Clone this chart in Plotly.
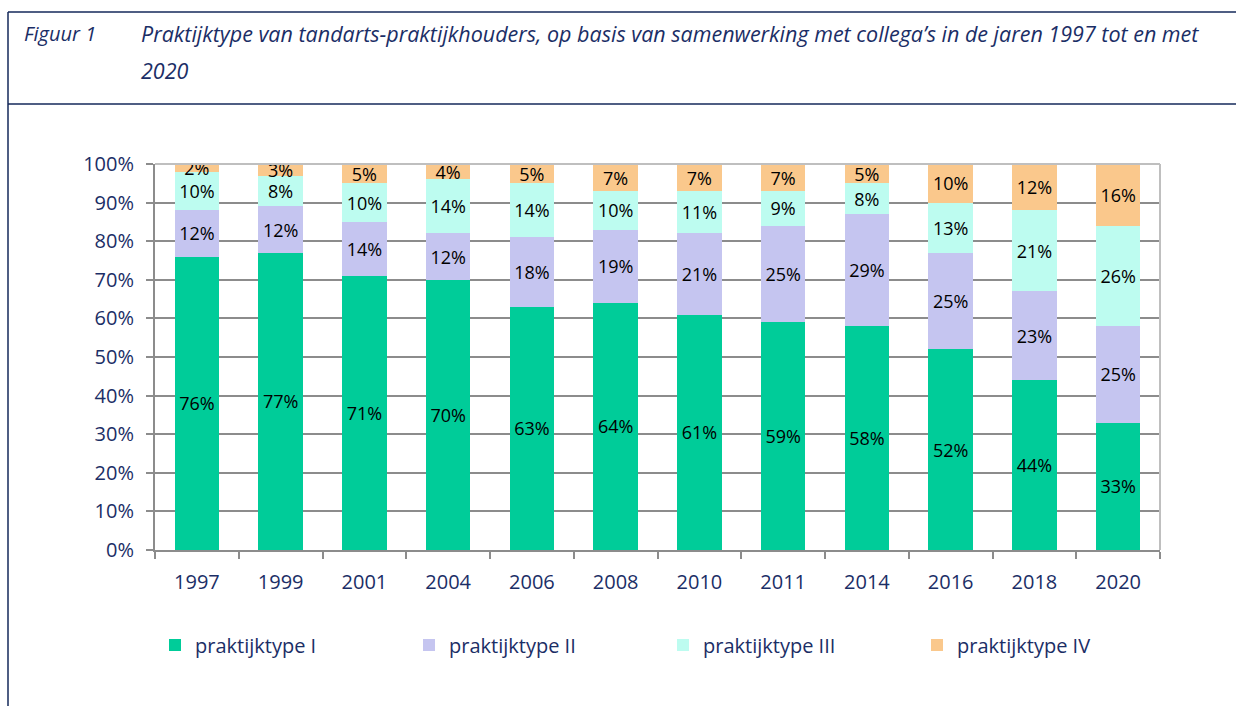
import plotly.graph_objects as go

years = ["1997", "1999", "2001", "2004", "2006", "2008", "2010", "2011", "2014", "2016", "2018", "2020"]
type_I = [76, 77, 71, 70, 63, 64, 61, 59, 58, 52, 44, 33]
type_II = [12, 12, 14, 12, 18, 19, 21, 25, 29, 25, 23, 25]
type_III = [10, 8, 10, 14, 14, 10, 11, 9, 8, 13, 21, 26]
type_IV = [2, 3, 5, 4, 5, 7, 7, 7, 5, 10, 12, 16]
series_names = ["praktijktype I", "praktijktype II", "praktijktype III", "praktijktype IV"]
colors = ["#00CC99", "#C5C5F0", "#BDFCF0", "#FAC88C"]
y_ticks = [0, 10, 20, 30, 40, 50, 60, 70, 80, 90, 100]
y_tick_labels = [f"{v}%" for v in y_ticks]

W, H = 1236, 706
NAVY = "#1B2E66"
FONT = "Open Sans"

def px_x(p):
    return p / W

def px_y(p):
    return 1 - p / H

fig = go.Figure()
for name, vals, col in zip(series_names, [type_I, type_II, type_III, type_IV], colors):
    fig.add_trace(go.Bar(
        x=years, y=vals, name=name,
        marker=dict(color=col, line=dict(width=0)),
        text=[f"{v}%" for v in vals],
        textposition="inside", insidetextanchor="middle", textangle=0,
        textfont=dict(family=FONT, size=18, color="#000000"),
        constraintext="none",
        hoverinfo="x+y+name",
    ))

fig.update_layout(
    width=W, height=H,
    barmode="stack", bargap=0.47,
    margin=dict(l=0, r=0, t=0, b=0, autoexpand=False),
    paper_bgcolor="white", plot_bgcolor="white",
    uniformtext=dict(minsize=18, mode="show"),
    font=dict(family=FONT, color=NAVY),
    xaxis=dict(
        domain=[px_x(155), px_x(1160)],
        type="category",
        showline=True, linecolor="#8C8C8C", linewidth=2,
        ticks="outside", tickson="boundaries", ticklen=7, tickcolor="#8C8C8C", tickwidth=2,
        tickfont=dict(family=FONT, size=20, color=NAVY),
        ticklabelstandoff=13,
        showgrid=False, automargin=False,
    ),
    yaxis=dict(
        domain=[px_y(550), px_y(164)],
        range=[0, 100],
        tickvals=y_ticks, ticktext=y_tick_labels,
        showline=True, linecolor="#8C8C8C", linewidth=2,
        ticks="outside", ticklen=7, tickcolor="#8C8C8C", tickwidth=2,
        showgrid=True, gridcolor="#8C8C8C", gridwidth=2,
        tickfont=dict(family=FONT, size=20, color=NAVY),
        ticklabelstandoff=8,
        zeroline=False, automargin=False,
    ),
    legend=dict(
        orientation="h", x=px_x(155), xanchor="left", y=px_y(645), yanchor="middle",
        font=dict(family=FONT, size=20, color=NAVY),
        entrywidth=209, entrywidthmode="pixels", itemwidth=30,
        traceorder="normal",
    ),
)

shapes = [
    dict(type="line", xref="paper", yref="paper", x0=px_x(8), x1=1, y0=px_y(12), y1=px_y(12),
         line=dict(color="#14285A", width=1.5)),
    dict(type="line", xref="paper", yref="paper", x0=px_x(8), x1=1, y0=px_y(104), y1=px_y(104),
         line=dict(color="#14285A", width=1.5)),
    dict(type="line", xref="paper", yref="paper", x0=px_x(8), x1=px_x(8), y0=px_y(12), y1=0,
         line=dict(color="#14285A", width=1.5)),
    dict(type="line", xref="paper", yref="paper", x0=px_x(155), x1=px_x(1160), y0=px_y(164), y1=px_y(164),
         line=dict(color="#BFBFBF", width=2)),
    dict(type="line", xref="paper", yref="paper", x0=px_x(1160), x1=px_x(1160), y0=px_y(164), y1=px_y(550),
         line=dict(color="#BFBFBF", width=2)),
]
fig.update_layout(shapes=shapes)

TSIZE = 21.5
fig.add_annotation(text="<i>Figuur 1</i>", xref="paper", yref="paper", x=px_x(22), y=px_y(34),
                   xanchor="left", yanchor="middle", showarrow=False,
                   font=dict(family=FONT, size=20, color=NAVY))
fig.add_annotation(text="<i>Praktijktype van tandarts-praktijkhouders, op basis van samenwerking met collega’s in de jaren 1997 tot en met</i>",
                   xref="paper", yref="paper", x=px_x(139), y=px_y(34),
                   xanchor="left", yanchor="middle", showarrow=False,
                   font=dict(family=FONT, size=TSIZE, color=NAVY))
fig.add_annotation(text="<i>2020</i>", xref="paper", yref="paper", x=px_x(139), y=px_y(71),
                   xanchor="left", yanchor="middle", showarrow=False,
                   font=dict(family=FONT, size=TSIZE, color=NAVY))

fig.write_html("out.html")
